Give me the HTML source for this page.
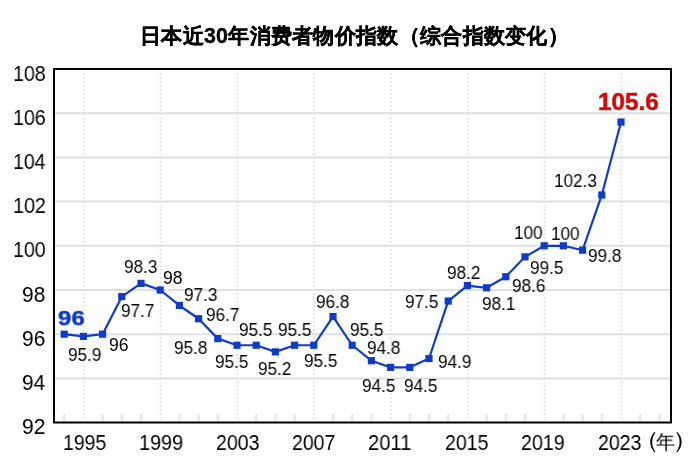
<!DOCTYPE html>
<html><head><meta charset="utf-8"><style>
html,body{margin:0;padding:0;background:#fff;width:697px;height:464px;overflow:hidden}
.t{position:absolute;line-height:1;white-space:nowrap;will-change:transform}
svg{position:absolute;left:0;top:0}
</style></head><body>
<svg width="697" height="464" viewBox="0 0 697 464">
<line x1="55" x2="670" y1="378.40" y2="378.40" stroke="#e0e0e0" stroke-width="2"/>
<line x1="55" x2="670" y1="334.20" y2="334.20" stroke="#e0e0e0" stroke-width="2"/>
<line x1="55" x2="670" y1="290.00" y2="290.00" stroke="#e0e0e0" stroke-width="2"/>
<line x1="55" x2="670" y1="245.80" y2="245.80" stroke="#e0e0e0" stroke-width="2"/>
<line x1="55" x2="670" y1="201.60" y2="201.60" stroke="#e0e0e0" stroke-width="2"/>
<line x1="55" x2="670" y1="157.40" y2="157.40" stroke="#e0e0e0" stroke-width="2"/>
<line x1="55" x2="670" y1="113.20" y2="113.20" stroke="#e0e0e0" stroke-width="2"/>
<line x1="83.70" x2="83.70" y1="73.3" y2="421" stroke="#dfdfdf" stroke-width="1.8" stroke-dasharray="1.8 2.2"/>
<line x1="160.50" x2="160.50" y1="73.3" y2="421" stroke="#dfdfdf" stroke-width="1.8" stroke-dasharray="1.8 2.2"/>
<line x1="237.30" x2="237.30" y1="73.3" y2="421" stroke="#dfdfdf" stroke-width="1.8" stroke-dasharray="1.8 2.2"/>
<line x1="314.10" x2="314.10" y1="73.3" y2="421" stroke="#dfdfdf" stroke-width="1.8" stroke-dasharray="1.8 2.2"/>
<line x1="390.90" x2="390.90" y1="73.3" y2="421" stroke="#dfdfdf" stroke-width="1.8" stroke-dasharray="1.8 2.2"/>
<line x1="467.70" x2="467.70" y1="73.3" y2="421" stroke="#dfdfdf" stroke-width="1.8" stroke-dasharray="1.8 2.2"/>
<line x1="544.50" x2="544.50" y1="73.3" y2="421" stroke="#dfdfdf" stroke-width="1.8" stroke-dasharray="1.8 2.2"/>
<line x1="621.30" x2="621.30" y1="73.3" y2="421" stroke="#dfdfdf" stroke-width="1.8" stroke-dasharray="1.8 2.2"/>
<line x1="64.20" x2="64.20" y1="414" y2="422" stroke="#e2e2e2" stroke-width="2"/>
<line x1="102.60" x2="102.60" y1="414" y2="422" stroke="#e2e2e2" stroke-width="2"/>
<line x1="121.80" x2="121.80" y1="414" y2="422" stroke="#e2e2e2" stroke-width="2"/>
<line x1="141.00" x2="141.00" y1="414" y2="422" stroke="#e2e2e2" stroke-width="2"/>
<line x1="179.40" x2="179.40" y1="414" y2="422" stroke="#e2e2e2" stroke-width="2"/>
<line x1="198.60" x2="198.60" y1="414" y2="422" stroke="#e2e2e2" stroke-width="2"/>
<line x1="217.80" x2="217.80" y1="414" y2="422" stroke="#e2e2e2" stroke-width="2"/>
<line x1="256.20" x2="256.20" y1="414" y2="422" stroke="#e2e2e2" stroke-width="2"/>
<line x1="275.40" x2="275.40" y1="414" y2="422" stroke="#e2e2e2" stroke-width="2"/>
<line x1="294.60" x2="294.60" y1="414" y2="422" stroke="#e2e2e2" stroke-width="2"/>
<line x1="333.00" x2="333.00" y1="414" y2="422" stroke="#e2e2e2" stroke-width="2"/>
<line x1="352.20" x2="352.20" y1="414" y2="422" stroke="#e2e2e2" stroke-width="2"/>
<line x1="371.40" x2="371.40" y1="414" y2="422" stroke="#e2e2e2" stroke-width="2"/>
<line x1="409.80" x2="409.80" y1="414" y2="422" stroke="#e2e2e2" stroke-width="2"/>
<line x1="429.00" x2="429.00" y1="414" y2="422" stroke="#e2e2e2" stroke-width="2"/>
<line x1="448.20" x2="448.20" y1="414" y2="422" stroke="#e2e2e2" stroke-width="2"/>
<line x1="486.60" x2="486.60" y1="414" y2="422" stroke="#e2e2e2" stroke-width="2"/>
<line x1="505.80" x2="505.80" y1="414" y2="422" stroke="#e2e2e2" stroke-width="2"/>
<line x1="525.00" x2="525.00" y1="414" y2="422" stroke="#e2e2e2" stroke-width="2"/>
<line x1="563.40" x2="563.40" y1="414" y2="422" stroke="#e2e2e2" stroke-width="2"/>
<line x1="582.60" x2="582.60" y1="414" y2="422" stroke="#e2e2e2" stroke-width="2"/>
<line x1="601.80" x2="601.80" y1="414" y2="422" stroke="#e2e2e2" stroke-width="2"/>
<line x1="640.20" x2="640.20" y1="414" y2="422" stroke="#e2e2e2" stroke-width="2"/>
<line x1="659.40" x2="659.40" y1="414" y2="422" stroke="#e2e2e2" stroke-width="2"/>
<rect x="54" y="69" width="617" height="353.5" fill="none" stroke="#000" stroke-width="2"/>
<polyline points="64.20,334.20 83.40,336.41 102.60,334.20 121.80,296.63 141.00,283.37 160.20,290.00 179.40,305.47 198.60,318.73 217.80,338.62 237.00,345.25 256.20,345.25 275.40,351.88 294.60,345.25 313.80,345.25 333.00,316.52 352.20,345.25 371.40,360.72 390.60,367.35 409.80,367.35 429.00,358.51 448.20,301.05 467.40,285.58 486.60,287.79 505.80,276.74 525.00,256.85 544.20,245.80 563.40,245.80 582.60,250.22 601.80,194.97 621.00,122.04" fill="none" stroke="#103cc4" stroke-width="2.2" stroke-linejoin="round"/>
<rect x="60.60" y="330.60" width="7.2" height="7.2" fill="#103cc4"/>
<rect x="79.80" y="332.81" width="7.2" height="7.2" fill="#103cc4"/>
<rect x="99.00" y="330.60" width="7.2" height="7.2" fill="#103cc4"/>
<rect x="118.20" y="293.03" width="7.2" height="7.2" fill="#103cc4"/>
<rect x="137.40" y="279.77" width="7.2" height="7.2" fill="#103cc4"/>
<rect x="156.60" y="286.40" width="7.2" height="7.2" fill="#103cc4"/>
<rect x="175.80" y="301.87" width="7.2" height="7.2" fill="#103cc4"/>
<rect x="195.00" y="315.13" width="7.2" height="7.2" fill="#103cc4"/>
<rect x="214.20" y="335.02" width="7.2" height="7.2" fill="#103cc4"/>
<rect x="233.40" y="341.65" width="7.2" height="7.2" fill="#103cc4"/>
<rect x="252.60" y="341.65" width="7.2" height="7.2" fill="#103cc4"/>
<rect x="271.80" y="348.28" width="7.2" height="7.2" fill="#103cc4"/>
<rect x="291.00" y="341.65" width="7.2" height="7.2" fill="#103cc4"/>
<rect x="310.20" y="341.65" width="7.2" height="7.2" fill="#103cc4"/>
<rect x="329.40" y="312.92" width="7.2" height="7.2" fill="#103cc4"/>
<rect x="348.60" y="341.65" width="7.2" height="7.2" fill="#103cc4"/>
<rect x="367.80" y="357.12" width="7.2" height="7.2" fill="#103cc4"/>
<rect x="387.00" y="363.75" width="7.2" height="7.2" fill="#103cc4"/>
<rect x="406.20" y="363.75" width="7.2" height="7.2" fill="#103cc4"/>
<rect x="425.40" y="354.91" width="7.2" height="7.2" fill="#103cc4"/>
<rect x="444.60" y="297.45" width="7.2" height="7.2" fill="#103cc4"/>
<rect x="463.80" y="281.98" width="7.2" height="7.2" fill="#103cc4"/>
<rect x="483.00" y="284.19" width="7.2" height="7.2" fill="#103cc4"/>
<rect x="502.20" y="273.14" width="7.2" height="7.2" fill="#103cc4"/>
<rect x="521.40" y="253.25" width="7.2" height="7.2" fill="#103cc4"/>
<rect x="540.60" y="242.20" width="7.2" height="7.2" fill="#103cc4"/>
<rect x="559.80" y="242.20" width="7.2" height="7.2" fill="#103cc4"/>
<rect x="579.00" y="246.62" width="7.2" height="7.2" fill="#103cc4"/>
<rect x="598.20" y="191.37" width="7.2" height="7.2" fill="#103cc4"/>
<rect x="617.40" y="118.44" width="7.2" height="7.2" fill="#103cc4"/>
</svg>
<div class="t" id="L0" style="left:68.20px;top:346.55px;font:17.6px 'Liberation Sans';line-height:1;color:#000;transform:scale(0.9750,1.0000);transform-origin:0 0;">95.9</div>
<div class="t" id="L1" style="left:109.40px;top:337.00px;font:17.6px 'Liberation Sans';line-height:1;color:#000;transform:scale(0.9750,1.0000);transform-origin:0 0;">96</div>
<div class="t" id="L2" style="left:121.20px;top:303.30px;font:17.6px 'Liberation Sans';line-height:1;color:#000;transform:scale(0.9750,1.0000);transform-origin:0 0;">97.7</div>
<div class="t" id="L3" style="left:124.10px;top:258.90px;font:17.6px 'Liberation Sans';line-height:1;color:#000;transform:scale(0.9750,1.0000);transform-origin:0 0;">98.3</div>
<div class="t" id="L4" style="left:163.10px;top:269.60px;font:17.6px 'Liberation Sans';line-height:1;color:#000;transform:scale(0.9750,1.0000);transform-origin:0 0;">98</div>
<div class="t" id="L5" style="left:184.10px;top:287.40px;font:17.6px 'Liberation Sans';line-height:1;color:#000;transform:scale(0.9750,1.0000);transform-origin:0 0;">97.3</div>
<div class="t" id="L6" style="left:205.60px;top:306.60px;font:17.6px 'Liberation Sans';line-height:1;color:#000;transform:scale(0.9750,1.0000);transform-origin:0 0;">96.7</div>
<div class="t" id="L7" style="left:173.90px;top:339.60px;font:17.6px 'Liberation Sans';line-height:1;color:#000;transform:scale(0.9750,1.0000);transform-origin:0 0;">95.8</div>
<div class="t" id="L8" style="left:215.20px;top:353.70px;font:17.6px 'Liberation Sans';line-height:1;color:#000;transform:scale(0.9750,1.0000);transform-origin:0 0;">95.5</div>
<div class="t" id="L9" style="left:239.10px;top:321.80px;font:17.6px 'Liberation Sans';line-height:1;color:#000;transform:scale(0.9750,1.0000);transform-origin:0 0;">95.5</div>
<div class="t" id="L10" style="left:258.00px;top:360.50px;font:17.6px 'Liberation Sans';line-height:1;color:#000;transform:scale(0.9750,1.0000);transform-origin:0 0;">95.2</div>
<div class="t" id="L11" style="left:277.50px;top:321.80px;font:17.6px 'Liberation Sans';line-height:1;color:#000;transform:scale(0.9750,1.0000);transform-origin:0 0;">95.5</div>
<div class="t" id="L12" style="left:304.40px;top:352.90px;font:17.6px 'Liberation Sans';line-height:1;color:#000;transform:scale(0.9750,1.0000);transform-origin:0 0;">95.5</div>
<div class="t" id="L13" style="left:316.10px;top:294.30px;font:17.6px 'Liberation Sans';line-height:1;color:#000;transform:scale(0.9750,1.0000);transform-origin:0 0;">96.8</div>
<div class="t" id="L14" style="left:350.30px;top:322.10px;font:17.6px 'Liberation Sans';line-height:1;color:#000;transform:scale(0.9750,1.0000);transform-origin:0 0;">95.5</div>
<div class="t" id="L15" style="left:366.80px;top:340.00px;font:17.6px 'Liberation Sans';line-height:1;color:#000;transform:scale(0.9750,1.0000);transform-origin:0 0;">94.8</div>
<div class="t" id="L16" style="left:361.70px;top:378.30px;font:17.6px 'Liberation Sans';line-height:1;color:#000;transform:scale(0.9750,1.0000);transform-origin:0 0;">94.5</div>
<div class="t" id="L17" style="left:404.40px;top:378.30px;font:17.6px 'Liberation Sans';line-height:1;color:#000;transform:scale(0.9750,1.0000);transform-origin:0 0;">94.5</div>
<div class="t" id="L18" style="left:437.80px;top:353.50px;font:17.6px 'Liberation Sans';line-height:1;color:#000;transform:scale(0.9750,1.0000);transform-origin:0 0;">94.9</div>
<div class="t" id="L19" style="left:405.40px;top:294.20px;font:17.6px 'Liberation Sans';line-height:1;color:#000;transform:scale(0.9750,1.0000);transform-origin:0 0;">97.5</div>
<div class="t" id="L20" style="left:446.70px;top:264.60px;font:17.6px 'Liberation Sans';line-height:1;color:#000;transform:scale(0.9750,1.0000);transform-origin:0 0;">98.2</div>
<div class="t" id="L21" style="left:481.70px;top:296.10px;font:17.6px 'Liberation Sans';line-height:1;color:#000;transform:scale(0.9750,1.0000);transform-origin:0 0;">98.1</div>
<div class="t" id="L22" style="left:511.60px;top:278.30px;font:17.6px 'Liberation Sans';line-height:1;color:#000;transform:scale(0.9750,1.0000);transform-origin:0 0;">98.6</div>
<div class="t" id="L23" style="left:529.90px;top:260.30px;font:17.6px 'Liberation Sans';line-height:1;color:#000;transform:scale(0.9750,1.0000);transform-origin:0 0;">99.5</div>
<div class="t" id="L24" style="left:513.90px;top:225.30px;font:17.6px 'Liberation Sans';line-height:1;color:#000;transform:scale(0.9750,1.0000);transform-origin:0 0;">100</div>
<div class="t" id="L25" style="left:551.30px;top:225.60px;font:17.6px 'Liberation Sans';line-height:1;color:#000;transform:scale(0.9750,1.0000);transform-origin:0 0;">100</div>
<div class="t" id="L26" style="left:587.60px;top:248.40px;font:17.6px 'Liberation Sans';line-height:1;color:#000;transform:scale(0.9750,1.0000);transform-origin:0 0;">99.8</div>
<div class="t" id="L27" style="left:553.70px;top:172.90px;font:17.6px 'Liberation Sans';line-height:1;color:#000;transform:scale(0.9750,1.0000);transform-origin:0 0;">102.3</div>
<div class="t" id="L28" style="left:58.00px;top:307.50px;font:bold 22px 'Liberation Sans';line-height:1;color:#103cc4;transform:scale(1.0894,0.9600);transform-origin:0 0;-webkit-text-stroke:0.5px #103cc4;">96</div>
<div class="t" id="L29" style="left:598.00px;top:91.40px;font:bold 22px 'Liberation Sans';line-height:1;color:#d40b0b;transform:scale(1.1028,1.0462);transform-origin:0 0;-webkit-text-stroke:0.5px #d40b0b;">105.6</div>
<div class="t" id="L30" style="left:22.00px;top:416.10px;font:21px 'Liberation Sans';line-height:1;color:#000;transform:scale(1.0071,1.0133);transform-origin:0 0;">92</div>
<div class="t" id="L31" style="left:22.00px;top:371.90px;font:21px 'Liberation Sans';line-height:1;color:#000;transform:scale(0.9839,1.0133);transform-origin:0 0;">94</div>
<div class="t" id="L32" style="left:22.00px;top:327.70px;font:21px 'Liberation Sans';line-height:1;color:#000;transform:scale(0.9953,1.0133);transform-origin:0 0;">96</div>
<div class="t" id="L33" style="left:22.00px;top:283.50px;font:21px 'Liberation Sans';line-height:1;color:#000;transform:scale(0.9953,1.0133);transform-origin:0 0;">98</div>
<div class="t" id="L34" style="left:13.20px;top:239.30px;font:21px 'Liberation Sans';line-height:1;color:#000;transform:scale(0.9344,1.0133);transform-origin:0 0;">100</div>
<div class="t" id="L35" style="left:13.20px;top:195.10px;font:21px 'Liberation Sans';line-height:1;color:#000;transform:scale(0.9415,1.0133);transform-origin:0 0;">102</div>
<div class="t" id="L36" style="left:13.20px;top:150.90px;font:21px 'Liberation Sans';line-height:1;color:#000;transform:scale(0.9273,1.0133);transform-origin:0 0;">104</div>
<div class="t" id="L37" style="left:13.20px;top:106.70px;font:21px 'Liberation Sans';line-height:1;color:#000;transform:scale(0.9344,1.0133);transform-origin:0 0;">106</div>
<div class="t" id="L38" style="left:13.20px;top:62.50px;font:21px 'Liberation Sans';line-height:1;color:#000;transform:scale(0.9344,1.0133);transform-origin:0 0;">108</div>
<div class="t" id="L39" style="left:63.10px;top:432.40px;font:21px 'Liberation Sans';line-height:1;color:#000;transform:scale(0.9258,1.0067);transform-origin:0 0;">1995</div>
<div class="t" id="L40" style="left:138.60px;top:432.40px;font:21px 'Liberation Sans';line-height:1;color:#000;transform:scale(0.9446,1.0067);transform-origin:0 0;">1999</div>
<div class="t" id="L41" style="left:216.00px;top:432.40px;font:21px 'Liberation Sans';line-height:1;color:#000;transform:scale(0.9318,1.0067);transform-origin:0 0;">2003</div>
<div class="t" id="L42" style="left:292.20px;top:432.40px;font:21px 'Liberation Sans';line-height:1;color:#000;transform:scale(0.9274,1.0067);transform-origin:0 0;">2007</div>
<div class="t" id="L43" style="left:368.10px;top:432.40px;font:21px 'Liberation Sans';line-height:1;color:#000;transform:scale(0.9618,1.0067);transform-origin:0 0;">2011</div>
<div class="t" id="L44" style="left:445.10px;top:432.40px;font:21px 'Liberation Sans';line-height:1;color:#000;transform:scale(0.9311,1.0067);transform-origin:0 0;">2015</div>
<div class="t" id="L45" style="left:521.40px;top:432.40px;font:21px 'Liberation Sans';line-height:1;color:#000;transform:scale(0.9363,1.0067);transform-origin:0 0;">2019</div>
<div class="t" id="L46" style="left:597.50px;top:432.40px;font:21px 'Liberation Sans';line-height:1;color:#000;transform:scale(0.9296,1.0067);transform-origin:0 0;">2023</div>
<div class="t" id="L47" style="left:632.60px;top:429.40px;font:21px 'Liberation Sans';line-height:1;color:#000;transform:scale(1.2471,1.0833);transform-origin:0 0;">（</div>
<div class="t" id="L48" style="left:655.60px;top:431.50px;font:21px 'Liberation Sans';line-height:1;color:#000;transform:scale(0.9050,0.9333);transform-origin:0 0;">年</div>
<div class="t" id="L49" style="left:671.50px;top:429.40px;font:21px 'Liberation Sans';line-height:1;color:#000;transform:scale(1.2941,1.0833);transform-origin:0 0;">）</div>
<div class="t" id="title" style="left:139.5px;top:26.3px;font:bold 21.4px 'Liberation Sans';line-height:1;letter-spacing:0.3px;color:#000;-webkit-text-stroke:0.35px #000">日本近30年消费者物价指数（综合指数变化）</div>
</body></html>
